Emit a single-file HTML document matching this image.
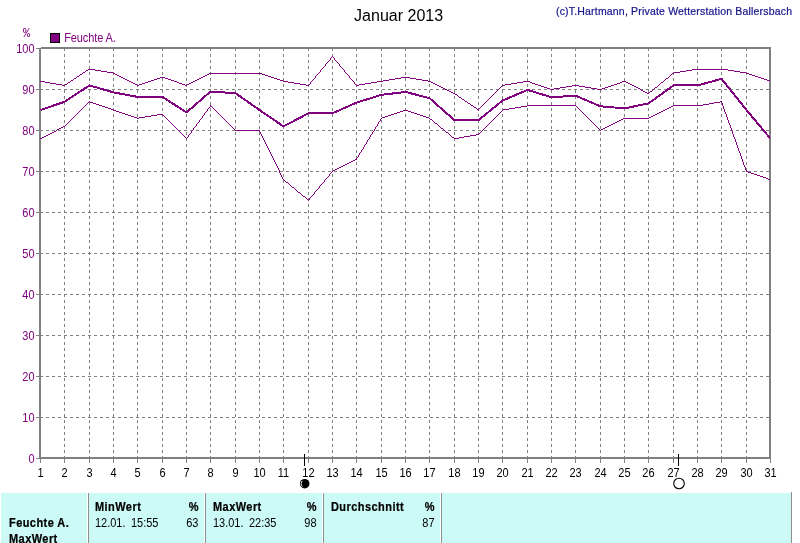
<!DOCTYPE html>
<html lang="de"><head><meta charset="utf-8"><title>Januar 2013</title>
<style>html,body{margin:0;padding:0;background:#fff;overflow:hidden}body{width:800px;height:543px;position:relative}</style>
</head><body>
<svg width="800" height="543" viewBox="0 0 800 543" style="position:absolute;left:0;top:0;font-family:'Liberation Sans',Arial,sans-serif">
<rect x="0" y="0" width="800" height="543" fill="#fff"/>
<g shape-rendering="crispEdges" stroke="#808080" stroke-width="1" stroke-dasharray="3,3" fill="none">
<line x1="64.5" y1="48" x2="64.5" y2="457"/>
<line x1="89.5" y1="48" x2="89.5" y2="457"/>
<line x1="113.5" y1="48" x2="113.5" y2="457"/>
<line x1="137.5" y1="48" x2="137.5" y2="457"/>
<line x1="162.5" y1="48" x2="162.5" y2="457"/>
<line x1="186.5" y1="48" x2="186.5" y2="457"/>
<line x1="210.5" y1="48" x2="210.5" y2="457"/>
<line x1="235.5" y1="48" x2="235.5" y2="457"/>
<line x1="259.5" y1="48" x2="259.5" y2="457"/>
<line x1="283.5" y1="48" x2="283.5" y2="457"/>
<line x1="308.5" y1="48" x2="308.5" y2="457"/>
<line x1="332.5" y1="48" x2="332.5" y2="457"/>
<line x1="356.5" y1="48" x2="356.5" y2="457"/>
<line x1="381.5" y1="48" x2="381.5" y2="457"/>
<line x1="405.5" y1="48" x2="405.5" y2="457"/>
<line x1="429.5" y1="48" x2="429.5" y2="457"/>
<line x1="454.5" y1="48" x2="454.5" y2="457"/>
<line x1="478.5" y1="48" x2="478.5" y2="457"/>
<line x1="502.5" y1="48" x2="502.5" y2="457"/>
<line x1="527.5" y1="48" x2="527.5" y2="457"/>
<line x1="551.5" y1="48" x2="551.5" y2="457"/>
<line x1="575.5" y1="48" x2="575.5" y2="457"/>
<line x1="600.5" y1="48" x2="600.5" y2="457"/>
<line x1="624.5" y1="48" x2="624.5" y2="457"/>
<line x1="648.5" y1="48" x2="648.5" y2="457"/>
<line x1="673.5" y1="48" x2="673.5" y2="457"/>
<line x1="697.5" y1="48" x2="697.5" y2="457"/>
<line x1="721.5" y1="48" x2="721.5" y2="457"/>
<line x1="746.5" y1="48" x2="746.5" y2="457"/>
<line x1="40" y1="89.5" x2="769" y2="89.5"/>
<line x1="40" y1="130.5" x2="769" y2="130.5"/>
<line x1="40" y1="171.5" x2="769" y2="171.5"/>
<line x1="40" y1="212.5" x2="769" y2="212.5"/>
<line x1="40" y1="253.5" x2="769" y2="253.5"/>
<line x1="40" y1="294.5" x2="769" y2="294.5"/>
<line x1="40" y1="335.5" x2="769" y2="335.5"/>
<line x1="40" y1="376.5" x2="769" y2="376.5"/>
<line x1="40" y1="417.5" x2="769" y2="417.5"/>
</g>
<g shape-rendering="crispEdges" fill="#808080">
<rect x="41" y="47" width="730" height="1"/><rect x="39" y="48" width="732" height="1"/>
<rect x="39" y="457" width="732" height="2"/>
<rect x="39" y="48" width="2" height="411"/>
<rect x="769" y="47" width="2" height="412"/>
<rect x="36" y="48" width="3" height="1"/>
<rect x="36" y="89" width="3" height="1"/>
<rect x="36" y="130" width="3" height="1"/>
<rect x="36" y="171" width="3" height="1"/>
<rect x="36" y="212" width="3" height="1"/>
<rect x="36" y="253" width="3" height="1"/>
<rect x="36" y="294" width="3" height="1"/>
<rect x="36" y="335" width="3" height="1"/>
<rect x="36" y="376" width="3" height="1"/>
<rect x="36" y="417" width="3" height="1"/>
<rect x="36" y="458" width="3" height="1"/>
<rect x="40" y="459" width="1" height="4"/>
<rect x="64" y="459" width="1" height="4"/>
<rect x="89" y="459" width="1" height="4"/>
<rect x="113" y="459" width="1" height="4"/>
<rect x="137" y="459" width="1" height="4"/>
<rect x="162" y="459" width="1" height="4"/>
<rect x="186" y="459" width="1" height="4"/>
<rect x="210" y="459" width="1" height="4"/>
<rect x="235" y="459" width="1" height="4"/>
<rect x="259" y="459" width="1" height="4"/>
<rect x="283" y="459" width="1" height="4"/>
<rect x="308" y="459" width="1" height="4"/>
<rect x="332" y="459" width="1" height="4"/>
<rect x="356" y="459" width="1" height="4"/>
<rect x="381" y="459" width="1" height="4"/>
<rect x="405" y="459" width="1" height="4"/>
<rect x="429" y="459" width="1" height="4"/>
<rect x="454" y="459" width="1" height="4"/>
<rect x="478" y="459" width="1" height="4"/>
<rect x="502" y="459" width="1" height="4"/>
<rect x="527" y="459" width="1" height="4"/>
<rect x="551" y="459" width="1" height="4"/>
<rect x="575" y="459" width="1" height="4"/>
<rect x="600" y="459" width="1" height="4"/>
<rect x="624" y="459" width="1" height="4"/>
<rect x="648" y="459" width="1" height="4"/>
<rect x="673" y="459" width="1" height="4"/>
<rect x="697" y="459" width="1" height="4"/>
<rect x="721" y="459" width="1" height="4"/>
<rect x="746" y="459" width="1" height="4"/>
<rect x="770" y="459" width="1" height="4"/>
</g>
<clipPath id="pc"><rect x="40" y="49" width="730" height="408"/></clipPath>
<g shape-rendering="crispEdges" clip-path="url(#pc)">
<path fill="#800080" d="M125 79h2v1h-2zM154 79h3v1h-3zM168 79h3v1h-3zM197 79h2v1h-2zM277 79h3v1h-3zM389 79h6v1h-6zM416 79h6v1h-6zM764 79h3v1h-3zM71 80h2v1h-2zM127 80h2v1h-2zM151 80h3v1h-3zM171 80h3v1h-3zM195 80h2v1h-2zM280 80h3v1h-3zM383 80h6v1h-6zM422 80h6v1h-6zM767 80h3v1h-3zM439 86h2v1h-2zM541 86h3v1h-3zM566 86h6v1h-6zM579 86h6v1h-6zM608 86h3v1h-3zM634 86h2v1h-2zM443 88h2v1h-2zM547 88h3v1h-3zM554 88h6v1h-6zM591 88h6v1h-6zM602 88h3v1h-3zM638 88h2v1h-2zM88 69h7v1h-7zM692 69h36v1h-36zM56 84h6v1h-6zM65 84h2v1h-2zM135 84h2v1h-2zM139 84h3v1h-3zM182 84h3v1h-3zM187 84h2v1h-2zM300 84h6v1h-6zM359 84h6v1h-6zM435 84h2v1h-2zM505 84h6v1h-6zM535 84h3v1h-3zM614 84h3v1h-3zM630 84h2v1h-2zM101 71h6v1h-6zM680 71h6v1h-6zM734 71h6v1h-6zM50 83h6v1h-6zM133 83h2v1h-2zM142 83h3v1h-3zM179 83h3v1h-3zM189 83h2v1h-2zM294 83h6v1h-6zM365 83h6v1h-6zM433 83h2v1h-2zM511 83h6v1h-6zM532 83h3v1h-3zM617 83h3v1h-3zM628 83h2v1h-2zM80 74h2v1h-2zM115 74h2v1h-2zM207 74h2v1h-2zM262 74h3v1h-3zM749 74h3v1h-3zM121 77h2v1h-2zM160 77h5v1h-5zM201 77h2v1h-2zM271 77h3v1h-3zM401 77h9v1h-9zM758 77h3v1h-3zM445 89h2v1h-2zM550 89h4v1h-4zM597 89h5v1h-5zM86 70h2v1h-2zM95 70h6v1h-6zM686 70h6v1h-6zM728 70h6v1h-6zM74 78h2v1h-2zM123 78h2v1h-2zM157 78h3v1h-3zM165 78h3v1h-3zM199 78h2v1h-2zM274 78h3v1h-3zM395 78h6v1h-6zM410 78h6v1h-6zM666 78h2v1h-2zM761 78h3v1h-3zM441 87h2v1h-2zM544 87h3v1h-3zM560 87h6v1h-6zM585 87h6v1h-6zM605 87h3v1h-3zM636 87h2v1h-2zM655 87h2v1h-2zM77 76h2v1h-2zM119 76h2v1h-2zM203 76h2v1h-2zM268 76h3v1h-3zM755 76h3v1h-3zM113 73h2v1h-2zM209 73h53v1h-53zM672 73h2v1h-2zM746 73h3v1h-3zM45 82h5v1h-5zM68 82h2v1h-2zM131 82h2v1h-2zM145 82h3v1h-3zM177 82h2v1h-2zM191 82h2v1h-2zM288 82h6v1h-6zM371 82h6v1h-6zM431 82h2v1h-2zM517 82h6v1h-6zM530 82h2v1h-2zM620 82h2v1h-2zM626 82h2v1h-2zM661 82h2v1h-2zM62 85h3v1h-3zM137 85h2v1h-2zM185 85h2v1h-2zM306 85h3v1h-3zM356 85h3v1h-3zM437 85h2v1h-2zM502 85h3v1h-3zM538 85h3v1h-3zM572 85h7v1h-7zM611 85h3v1h-3zM632 85h2v1h-2zM449 91h2v1h-2zM643 91h2v1h-2zM650 91h2v1h-2zM83 72h2v1h-2zM107 72h6v1h-6zM674 72h6v1h-6zM740 72h6v1h-6zM117 75h2v1h-2zM205 75h2v1h-2zM265 75h3v1h-3zM752 75h3v1h-3zM459 97h2v1h-2zM451 92h2v1h-2zM645 92h2v1h-2zM453 93h2v1h-2zM647 93h2v1h-2zM455 94h2v1h-2zM40 81h5v1h-5zM129 81h2v1h-2zM148 81h3v1h-3zM174 81h3v1h-3zM193 81h2v1h-2zM283 81h5v1h-5zM377 81h6v1h-6zM428 81h3v1h-3zM523 81h7v1h-7zM622 81h4v1h-4zM474 107h2v1h-2zM471 105h2v1h-2zM447 90h2v1h-2zM641 90h2v1h-2zM465 101h2v1h-2zM462 99h2v1h-2zM477 109h2v1h-2zM468 103h2v1h-2zM73 79h1v1h-1zM313 79h1v1h-1zM351 79h1v1h-1zM665 79h1v1h-1zM312 80h1v1h-1zM352 80h1v1h-1zM664 80h1v1h-1zM501 86h1v1h-1zM657 86h1v1h-1zM499 88h1v1h-1zM654 88h1v1h-1zM321 69h1v1h-1zM343 69h1v1h-1zM309 84h1v1h-1zM355 84h1v1h-1zM659 84h1v1h-1zM85 71h1v1h-1zM320 70h1v2h-1zM344 70h1v2h-1zM67 83h1v1h-1zM310 82h1v2h-1zM354 82h1v2h-1zM660 83h1v1h-1zM317 74h1v1h-1zM347 74h1v1h-1zM671 74h1v1h-1zM76 77h1v1h-1zM315 76h1v2h-1zM349 76h1v2h-1zM668 77h1v1h-1zM498 89h1v1h-1zM640 89h1v1h-1zM653 89h1v1h-1zM314 78h1v1h-1zM350 78h1v1h-1zM500 87h1v1h-1zM669 76h1v1h-1zM82 73h1v1h-1zM318 73h1v1h-1zM346 73h1v1h-1zM464 100h1v1h-1zM487 100h1v1h-1zM457 95h1v1h-1zM492 95h1v1h-1zM658 85h1v1h-1zM496 91h1v1h-1zM319 72h1v1h-1zM345 72h1v1h-1zM79 75h1v1h-1zM316 75h1v1h-1zM348 75h1v1h-1zM670 75h1v1h-1zM490 97h1v1h-1zM328 61h1v1h-1zM336 61h1v1h-1zM495 92h1v1h-1zM649 92h1v1h-1zM494 93h1v1h-1zM493 94h1v1h-1zM70 81h1v1h-1zM311 81h1v1h-1zM353 81h1v1h-1zM663 81h1v1h-1zM770 81h1v1h-1zM480 107h1v1h-1zM482 105h1v1h-1zM497 90h1v1h-1zM652 90h1v1h-1zM331 57h1v1h-1zM333 57h1v1h-1zM323 67h1v1h-1zM341 67h1v1h-1zM467 102h1v1h-1zM485 102h1v1h-1zM325 64h1v2h-1zM339 64h1v2h-1zM486 101h1v1h-1zM330 58h1v2h-1zM334 58h1v2h-1zM326 63h1v1h-1zM338 63h1v1h-1zM488 99h1v1h-1zM461 98h1v1h-1zM489 98h1v1h-1zM458 96h1v1h-1zM491 96h1v1h-1zM327 62h1v1h-1zM337 62h1v1h-1zM484 103h1v1h-1zM476 108h1v1h-1zM479 108h1v1h-1zM322 68h1v1h-1zM342 68h1v1h-1zM324 66h1v1h-1zM340 66h1v1h-1zM332 56h1v1h-1zM478 110h1v1h-1zM473 106h1v1h-1zM481 106h1v1h-1zM329 60h1v1h-1zM335 60h1v1h-1zM470 104h1v1h-1zM483 104h1v1h-1z"/>
<path fill="#800080" d="M235 130h25v1h-25zM96 104h3v1h-3zM703 104h6v1h-6zM46 135h2v1h-2zM470 135h6v1h-6zM128 115h3v1h-3zM151 115h6v1h-6zM388 115h3v1h-3zM420 115h3v1h-3zM653 115h2v1h-2zM111 109h2v1h-2zM503 109h6v1h-6zM665 109h2v1h-2zM430 119h2v1h-2zM621 119h2v1h-2zM48 134h2v1h-2zM476 134h3v1h-3zM609 125h2v1h-2zM341 166h2v1h-2zM50 133h2v1h-2zM435 123h2v1h-2zM613 123h2v1h-2zM131 116h3v1h-3zM145 116h6v1h-6zM385 116h3v1h-3zM423 116h3v1h-3zM651 116h2v1h-2zM99 105h3v1h-3zM527 105h49v1h-49zM673 105h30v1h-30zM108 108h3v1h-3zM509 108h6v1h-6zM667 108h2v1h-2zM59 128h2v1h-2zM441 128h2v1h-2zM603 128h2v1h-2zM42 137h2v1h-2zM452 137h2v1h-2zM459 137h5v1h-5zM298 192h2v1h-2zM61 127h2v1h-2zM605 127h2v1h-2zM125 114h3v1h-3zM157 114h6v1h-6zM391 114h3v1h-3zM417 114h3v1h-3zM655 114h2v1h-2zM105 107h3v1h-3zM515 107h6v1h-6zM669 107h2v1h-2zM335 169h2v1h-2zM615 122h2v1h-2zM134 117h3v1h-3zM139 117h6v1h-6zM382 117h3v1h-3zM426 117h3v1h-3zM649 117h2v1h-2zM757 175h3v1h-3zM137 118h2v1h-2zM623 118h26v1h-26zM44 136h2v1h-2zM464 136h6v1h-6zM349 162h2v1h-2zM102 106h3v1h-3zM210 106h2v1h-2zM521 106h6v1h-6zM671 106h2v1h-2zM57 129h2v1h-2zM601 129h2v1h-2zM52 132h2v1h-2zM446 132h2v1h-2zM90 102h3v1h-3zM714 102h6v1h-6zM113 110h3v1h-3zM403 110h5v1h-5zM663 110h2v1h-2zM63 126h2v1h-2zM607 126h2v1h-2zM345 164h2v1h-2zM748 172h3v1h-3zM286 182h2v1h-2zM746 171h2v1h-2zM751 173h3v1h-3zM617 121h2v1h-2zM119 112h3v1h-3zM397 112h3v1h-3zM411 112h3v1h-3zM659 112h2v1h-2zM619 120h2v1h-2zM754 174h3v1h-3zM333 170h2v1h-2zM40 138h2v1h-2zM454 138h5v1h-5zM355 159h2v1h-2zM54 131h2v1h-2zM760 176h3v1h-3zM116 111h3v1h-3zM400 111h3v1h-3zM408 111h3v1h-3zM661 111h2v1h-2zM766 178h2v1h-2zM292 187h2v1h-2zM768 179h3v1h-3zM93 103h3v1h-3zM709 103h5v1h-5zM351 161h2v1h-2zM122 113h3v1h-3zM394 113h3v1h-3zM414 113h3v1h-3zM657 113h2v1h-2zM763 177h3v1h-3zM353 160h2v1h-2zM611 124h2v1h-2zM347 163h2v1h-2zM339 167h2v1h-2zM343 165h2v1h-2zM303 196h2v1h-2zM720 101h2v1h-2zM337 168h2v1h-2zM56 130h1v1h-1zM178 130h1v1h-1zM192 130h1v1h-1zM374 129h1v2h-1zM444 130h1v1h-1zM482 130h1v1h-1zM600 130h1v1h-1zM731 128h1v3h-1zM86 104h1v1h-1zM722 103h1v3h-1zM183 135h1v1h-1zM188 135h1v2h-1zM261 134h1v2h-1zM370 135h1v2h-1zM450 135h1v1h-1zM733 134h1v3h-1zM75 115h1v1h-1zM163 115h1v1h-1zM203 115h1v1h-1zM220 115h1v1h-1zM497 115h1v1h-1zM585 115h1v1h-1zM726 114h1v3h-1zM81 109h1v1h-1zM207 109h1v2h-1zM214 109h1v1h-1zM579 109h1v1h-1zM724 109h1v3h-1zM71 119h1v1h-1zM167 119h1v1h-1zM200 119h1v1h-1zM224 119h1v1h-1zM380 119h1v2h-1zM493 119h1v1h-1zM589 119h1v1h-1zM727 117h1v3h-1zM266 144h1v2h-1zM365 144h1v1h-1zM736 142h1v3h-1zM182 134h1v1h-1zM189 134h1v1h-1zM371 134h1v1h-1zM449 134h1v1h-1zM65 125h1v1h-1zM173 125h1v1h-1zM196 124h1v2h-1zM230 125h1v1h-1zM377 124h1v2h-1zM438 125h1v1h-1zM487 125h1v1h-1zM595 125h1v1h-1zM730 125h1v3h-1zM277 166h1v2h-1zM744 165h1v2h-1zM181 133h1v1h-1zM190 133h1v1h-1zM260 132h1v2h-1zM372 132h1v2h-1zM448 133h1v1h-1zM479 133h1v1h-1zM732 131h1v3h-1zM67 123h1v1h-1zM171 123h1v1h-1zM197 123h1v1h-1zM228 123h1v1h-1zM378 122h1v2h-1zM489 123h1v1h-1zM593 123h1v1h-1zM729 123h1v2h-1zM364 145h1v2h-1zM737 145h1v3h-1zM74 116h1v1h-1zM164 116h1v1h-1zM202 116h1v2h-1zM221 116h1v1h-1zM496 116h1v1h-1zM586 116h1v1h-1zM85 105h1v1h-1zM210 105h1v1h-1zM82 108h1v1h-1zM208 108h1v1h-1zM213 108h1v1h-1zM578 108h1v1h-1zM723 106h1v3h-1zM176 128h1v1h-1zM193 128h1v2h-1zM233 128h1v1h-1zM375 127h1v2h-1zM484 128h1v1h-1zM598 128h1v1h-1zM185 137h1v1h-1zM187 137h1v1h-1zM262 136h1v2h-1zM369 137h1v2h-1zM734 137h1v2h-1zM314 192h1v2h-1zM175 127h1v1h-1zM194 127h1v1h-1zM232 127h1v1h-1zM440 127h1v1h-1zM485 127h1v1h-1zM597 127h1v1h-1zM269 150h1v2h-1zM361 150h1v2h-1zM738 148h1v3h-1zM267 146h1v2h-1zM76 114h1v1h-1zM204 113h1v2h-1zM219 114h1v1h-1zM498 114h1v1h-1zM584 114h1v1h-1zM83 107h1v1h-1zM209 107h1v1h-1zM212 107h1v1h-1zM577 107h1v1h-1zM271 154h1v2h-1zM358 155h1v2h-1zM740 153h1v3h-1zM278 168h1v2h-1zM745 167h1v3h-1zM273 158h1v2h-1zM356 158h1v1h-1zM741 156h1v3h-1zM68 122h1v1h-1zM170 122h1v1h-1zM198 122h1v1h-1zM227 122h1v1h-1zM434 122h1v1h-1zM490 122h1v1h-1zM592 122h1v1h-1zM728 120h1v3h-1zM73 117h1v1h-1zM165 117h1v1h-1zM222 117h1v1h-1zM495 117h1v1h-1zM587 117h1v1h-1zM281 175h1v2h-1zM329 174h1v2h-1zM72 118h1v1h-1zM166 118h1v1h-1zM201 118h1v1h-1zM223 118h1v1h-1zM381 118h1v1h-1zM429 118h1v1h-1zM494 118h1v1h-1zM588 118h1v1h-1zM184 136h1v1h-1zM451 136h1v1h-1zM275 162h1v2h-1zM743 162h1v3h-1zM739 151h1v2h-1zM84 106h1v1h-1zM576 106h1v1h-1zM285 181h1v1h-1zM324 180h1v2h-1zM177 129h1v1h-1zM234 129h1v1h-1zM443 129h1v1h-1zM483 129h1v1h-1zM599 129h1v1h-1zM180 132h1v1h-1zM191 131h1v2h-1zM480 132h1v1h-1zM88 102h1v1h-1zM721 102h1v1h-1zM265 142h1v2h-1zM366 142h1v2h-1zM80 110h1v1h-1zM215 110h1v1h-1zM502 110h1v1h-1zM580 110h1v1h-1zM174 126h1v1h-1zM195 126h1v1h-1zM231 126h1v1h-1zM376 126h1v1h-1zM439 126h1v1h-1zM486 126h1v1h-1zM596 126h1v1h-1zM276 164h1v2h-1zM279 170h1v3h-1zM331 172h1v1h-1zM323 182h1v1h-1zM272 156h1v2h-1zM357 157h1v1h-1zM332 171h1v1h-1zM280 173h1v2h-1zM330 173h1v1h-1zM359 153h1v2h-1zM69 121h1v1h-1zM169 121h1v1h-1zM199 120h1v2h-1zM226 121h1v1h-1zM379 121h1v1h-1zM433 121h1v1h-1zM491 121h1v1h-1zM591 121h1v1h-1zM301 194h1v1h-1zM313 194h1v1h-1zM263 138h1v2h-1zM368 139h1v1h-1zM735 139h1v3h-1zM78 112h1v1h-1zM205 112h1v1h-1zM217 112h1v1h-1zM500 112h1v1h-1zM582 112h1v1h-1zM725 112h1v2h-1zM70 120h1v1h-1zM168 120h1v1h-1zM225 120h1v1h-1zM432 120h1v1h-1zM492 120h1v1h-1zM590 120h1v1h-1zM746 170h1v1h-1zM308 200h1v1h-1zM186 138h1v1h-1zM742 159h1v3h-1zM289 184h1v1h-1zM321 184h1v1h-1zM284 180h1v1h-1zM296 190h1v1h-1zM316 190h1v1h-1zM268 148h1v2h-1zM362 149h1v1h-1zM179 131h1v1h-1zM259 131h1v1h-1zM373 131h1v1h-1zM445 131h1v1h-1zM481 131h1v1h-1zM328 176h1v1h-1zM79 111h1v1h-1zM206 111h1v1h-1zM216 111h1v1h-1zM501 111h1v1h-1zM581 111h1v1h-1zM282 177h1v2h-1zM326 178h1v1h-1zM319 186h1v2h-1zM283 179h1v1h-1zM325 179h1v1h-1zM87 103h1v1h-1zM274 160h1v2h-1zM77 113h1v1h-1zM218 113h1v1h-1zM499 113h1v1h-1zM583 113h1v1h-1zM327 177h1v1h-1zM264 140h1v2h-1zM367 140h1v2h-1zM66 124h1v1h-1zM172 124h1v1h-1zM229 124h1v1h-1zM437 124h1v1h-1zM488 124h1v1h-1zM594 124h1v1h-1zM270 152h1v2h-1zM360 152h1v1h-1zM363 147h1v2h-1zM311 196h1v1h-1zM89 101h1v1h-1zM297 191h1v1h-1zM315 191h1v1h-1zM288 183h1v1h-1zM322 183h1v1h-1zM305 197h1v1h-1zM310 197h1v1h-1zM294 188h1v1h-1zM318 188h1v1h-1zM295 189h1v1h-1zM317 189h1v1h-1zM306 198h1v1h-1zM309 198h1v2h-1zM307 199h1v1h-1zM302 195h1v1h-1zM312 195h1v1h-1zM290 185h1v1h-1zM320 185h1v1h-1zM300 193h1v1h-1zM291 186h1v1h-1z"/>
<polyline fill="none" stroke="#800080" stroke-linejoin="round" stroke-width="2" points="40.5,110.00 64.5,101.80 89.5,85.40 113.5,92.37 137.5,96.88 162.5,96.88 186.5,112.46 210.5,91.55 235.5,93.19 259.5,110.00 283.5,126.40 308.5,113.28 332.5,113.28 356.5,102.62 381.5,94.83 405.5,91.96 429.5,98.11 454.5,120.25 478.5,120.25 502.5,100.57 527.5,89.91 551.5,97.29 575.5,95.65 600.5,106.31 624.5,108.36 648.5,103.44 673.5,85.40 697.5,85.40 721.5,78.84 746.5,110.00 770.5,138.70"/>
</g>
<g shape-rendering="crispEdges" fill="#000"><rect x="304" y="454" width="1" height="12"/><rect x="678" y="454" width="1" height="12"/></g>
<circle cx="304.7" cy="483.7" r="4.8" fill="#000"/>
<path d="M302.2 480.9 A4.2 4.2 0 0 0 302.2 486.5" fill="none" stroke="#fff" stroke-width="0.9"/>
<circle cx="679" cy="483.5" r="5.3" fill="#fff" stroke="#000" stroke-width="1.1"/>
<rect x="50.5" y="33.5" width="9" height="9" fill="#800080" stroke="#000" stroke-width="1" shape-rendering="crispEdges"/>
<g font-size="11px" fill="#800080">
<text transform="translate(0,42) scale(1,1.125)" x="64.2" y="0" letter-spacing="-0.1px">Feuchte A.</text>
<text x="23" y="37" font-family="'Liberation Mono',monospace" font-size="12px">%</text>
<text transform="translate(0,53) scale(1,1.125)" x="34.6" y="0" text-anchor="end">100</text>
<text transform="translate(0,94) scale(1,1.125)" x="34.6" y="0" text-anchor="end">90</text>
<text transform="translate(0,135) scale(1,1.125)" x="34.6" y="0" text-anchor="end">80</text>
<text transform="translate(0,176) scale(1,1.125)" x="34.6" y="0" text-anchor="end">70</text>
<text transform="translate(0,217) scale(1,1.125)" x="34.6" y="0" text-anchor="end">60</text>
<text transform="translate(0,258) scale(1,1.125)" x="34.6" y="0" text-anchor="end">50</text>
<text transform="translate(0,299) scale(1,1.125)" x="34.6" y="0" text-anchor="end">40</text>
<text transform="translate(0,340) scale(1,1.125)" x="34.6" y="0" text-anchor="end">30</text>
<text transform="translate(0,381) scale(1,1.125)" x="34.6" y="0" text-anchor="end">20</text>
<text transform="translate(0,422) scale(1,1.125)" x="34.6" y="0" text-anchor="end">10</text>
<text transform="translate(0,463) scale(1,1.125)" x="34.6" y="0" text-anchor="end">0</text>
</g>
<g font-size="11px" fill="#000" text-anchor="middle">
<text transform="translate(0,477) scale(1,1.125)" x="40.5" y="0">1</text>
<text transform="translate(0,477) scale(1,1.125)" x="64.5" y="0">2</text>
<text transform="translate(0,477) scale(1,1.125)" x="89.5" y="0">3</text>
<text transform="translate(0,477) scale(1,1.125)" x="113.5" y="0">4</text>
<text transform="translate(0,477) scale(1,1.125)" x="137.5" y="0">5</text>
<text transform="translate(0,477) scale(1,1.125)" x="162.5" y="0">6</text>
<text transform="translate(0,477) scale(1,1.125)" x="186.5" y="0">7</text>
<text transform="translate(0,477) scale(1,1.125)" x="210.5" y="0">8</text>
<text transform="translate(0,477) scale(1,1.125)" x="235.5" y="0">9</text>
<text transform="translate(0,477) scale(1,1.125)" x="259.5" y="0">10</text>
<text transform="translate(0,477) scale(1,1.125)" x="283.5" y="0">11</text>
<text transform="translate(0,477) scale(1,1.125)" x="308.5" y="0">12</text>
<text transform="translate(0,477) scale(1,1.125)" x="332.5" y="0">13</text>
<text transform="translate(0,477) scale(1,1.125)" x="356.5" y="0">14</text>
<text transform="translate(0,477) scale(1,1.125)" x="381.5" y="0">15</text>
<text transform="translate(0,477) scale(1,1.125)" x="405.5" y="0">16</text>
<text transform="translate(0,477) scale(1,1.125)" x="429.5" y="0">17</text>
<text transform="translate(0,477) scale(1,1.125)" x="454.5" y="0">18</text>
<text transform="translate(0,477) scale(1,1.125)" x="478.5" y="0">19</text>
<text transform="translate(0,477) scale(1,1.125)" x="502.5" y="0">20</text>
<text transform="translate(0,477) scale(1,1.125)" x="527.5" y="0">21</text>
<text transform="translate(0,477) scale(1,1.125)" x="551.5" y="0">22</text>
<text transform="translate(0,477) scale(1,1.125)" x="575.5" y="0">23</text>
<text transform="translate(0,477) scale(1,1.125)" x="600.5" y="0">24</text>
<text transform="translate(0,477) scale(1,1.125)" x="624.5" y="0">25</text>
<text transform="translate(0,477) scale(1,1.125)" x="648.5" y="0">26</text>
<text transform="translate(0,477) scale(1,1.125)" x="673.5" y="0">27</text>
<text transform="translate(0,477) scale(1,1.125)" x="697.5" y="0">28</text>
<text transform="translate(0,477) scale(1,1.125)" x="721.5" y="0">29</text>
<text transform="translate(0,477) scale(1,1.125)" x="746.5" y="0">30</text>
<text transform="translate(0,477) scale(1,1.125)" x="770.5" y="0">31</text>
</g>
<text x="398.6" y="21" text-anchor="middle" font-size="16px" fill="#000">Januar 2013</text>
<text x="556" y="14.8" font-size="10.5px" fill="#14148a" stroke="#14148a" stroke-width="0.2" textLength="236" lengthAdjust="spacing">(c)T.Hartmann, Private Wetterstation Ballersbach</text>
<rect x="1" y="493" width="790" height="50" fill="#ccfaf7" shape-rendering="crispEdges"/>
<g shape-rendering="crispEdges" fill="#808080">
<rect x="87" y="493" width="1" height="50" fill="#fff"/>
<rect x="88" y="493" width="1" height="50" fill="#8e8e8e"/>
<rect x="204" y="493" width="1" height="50" fill="#fff"/>
<rect x="205" y="493" width="1" height="50" fill="#8e8e8e"/>
<rect x="322" y="493" width="1" height="50" fill="#fff"/>
<rect x="323" y="493" width="1" height="50" fill="#8e8e8e"/>
<rect x="440" y="493" width="1" height="50" fill="#fff"/>
<rect x="441" y="493" width="1" height="50" fill="#8e8e8e"/>
<rect x="791" y="492" width="1" height="51" fill="#8e8e8e"/>
</g>
<g font-size="11px" fill="#000">
<g font-weight="bold" letter-spacing="0.45px" stroke="#000" stroke-width="0.2">
<text transform="translate(0,527) scale(1,1.125)" x="9" y="0">Feuchte A.</text>
<text transform="translate(0,543) scale(1,1.125)" x="9" y="0">MaxWert</text>
<text transform="translate(0,511) scale(1,1.125)" x="95" y="0">MinWert</text>
<text transform="translate(0,511) scale(1,1.125)" x="199" y="0" text-anchor="end">%</text>
<text transform="translate(0,511) scale(1,1.125)" x="213" y="0">MaxWert</text>
<text transform="translate(0,511) scale(1,1.125)" x="317" y="0" text-anchor="end">%</text>
<text transform="translate(0,511) scale(1,1.125)" x="331" y="0">Durchschnitt</text>
<text transform="translate(0,511) scale(1,1.125)" x="435" y="0" text-anchor="end">%</text>
</g>
<text transform="translate(0,527) scale(1,1.125)" y="0"><tspan x="95">12.01.</tspan> <tspan x="131">15:55</tspan></text>
<text transform="translate(0,527) scale(1,1.125)" x="198.5" y="0" text-anchor="end">63</text>
<text transform="translate(0,527) scale(1,1.125)" y="0"><tspan x="213">13.01.</tspan> <tspan x="249">22:35</tspan></text>
<text transform="translate(0,527) scale(1,1.125)" x="316.5" y="0" text-anchor="end">98</text>
<text transform="translate(0,527) scale(1,1.125)" x="434.5" y="0" text-anchor="end">87</text>
</g>
</svg>
</body></html>
